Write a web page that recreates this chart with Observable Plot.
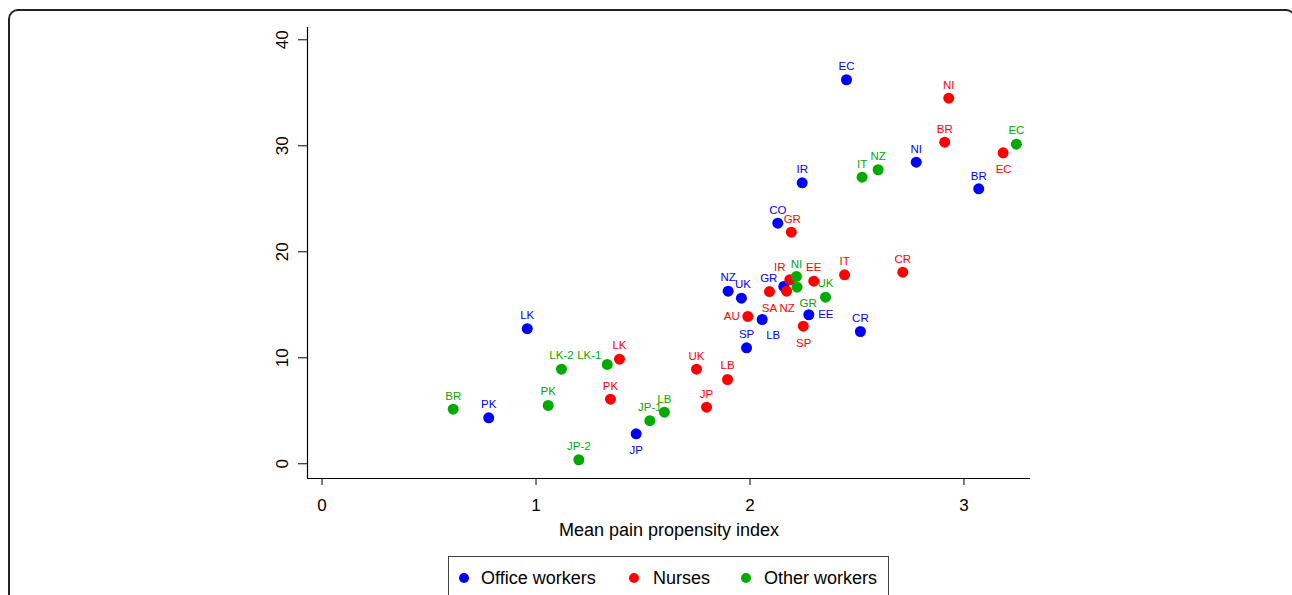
<!DOCTYPE html>
<html>
<head>
<meta charset="utf-8">
<script src="https://cdn.jsdelivr.net/npm/d3@7"></script>
<script src="https://cdn.jsdelivr.net/npm/@observablehq/plot@0.6"></script>
<style>
  html, body { margin: 0; padding: 0; background: #fff; overflow: hidden; width: 1292px; height: 595px; }
  #frame { position: absolute; left: 8px; top: 9px; width: 1288px; height: 640px; border: 2px solid #222; border-radius: 10px; box-sizing: border-box; pointer-events: none; }
  #chart { position: absolute; left: 0; top: 0; }
  #legend { position: absolute; left: 448px; top: 556px; width: 441px; height: 60px; border: 1.5px solid #444; box-sizing: border-box; font-family: "Liberation Sans", Arial, sans-serif; font-size: 18px; color: #000; }
  #legend .dot { position: absolute; width: 10px; height: 10px; border-radius: 50%; top: 16px; }
  #legend .lab { position: absolute; top: 10px; line-height: 22px; white-space: nowrap; }
</style>
</head>
<body>
<div id="chart"></div>
<div id="legend"></div>
<div id="frame"></div>
<script>
// ---- data ----
const groups = ["Office workers", "Nurses", "Other workers"];
const groupColors = ["#0000FF", "#FF0000", "#00AA00"];

const officeLabels = ["EC","NI","BR","IR","CO","NZ","UK","GR","EE","LB","CR","SP","LK","PK","JP"];
const officeX = [2.451, 2.777, 3.069, 2.244, 2.130, 1.898, 1.960, 2.158, 2.275, 2.057, 2.516, 1.984, 0.959, 0.779, 1.468];
const officeY = [36.23, 28.45, 25.94, 26.51, 22.70, 16.28, 15.62, 16.73, 14.06, 13.61, 12.48, 10.94, 12.74, 4.34, 2.83];

const nurseLabels = ["NI","BR","EC","GR","IR","EE","IT","CR","SA","NZ","AU","SP","LK","UK","PK","JP","LB"];
const nurseX = [2.929, 2.910, 3.183, 2.193, 2.186, 2.298, 2.442, 2.714, 2.091, 2.171, 1.990, 2.249, 1.390, 1.750, 1.348, 1.797, 1.895];
const nurseY = [34.49, 30.34, 29.34, 21.85, 17.36, 17.23, 17.83, 18.08, 16.25, 16.28, 13.90, 12.98, 9.87, 8.92, 6.09, 5.34, 7.95];

const otherLabels = ["EC","NZ","IT","NI","GR","UK","LK-2","LK-1","BR","PK","LB","JP-1","JP-2"];
const otherX = [3.245, 2.599, 2.524, 2.217, 2.220, 2.353, 1.119, 1.333, 0.613, 1.057, 1.600, 1.532, 1.200];
const otherY = [30.15, 27.74, 27.04, 17.67, 16.66, 15.72, 8.92, 9.37, 5.15, 5.50, 4.87, 4.06, 0.38];

const xTicks = [0, 1, 2, 3];
const yTicks = [0, 10, 20, 30, 40];
const xLabel = "Mean pain propensity index";

// ---- label placement (pixel offsets of each label from its point) ----
const defaultOffset = [0, -13];
const labelOffsets = {
  "Office workers|UK": [1.5, -14], "Office workers|NZ": [0, -13.5], "Office workers|GR": [-15, -8],
  "Office workers|EE": [17, 0], "Office workers|LB": [11, 16], "Office workers|JP": [0, 17],
  "Nurses|EC": [0.5, 17], "Nurses|IR": [-10, -12], "Nurses|SA": [0, 17], "Nurses|NZ": [0.5, 17],
  "Nurses|AU": [-16, 0], "Nurses|SP": [0.5, 17], "Nurses|EE": [0, -14], "Nurses|LK": [0, -14],
  "Nurses|LB": [0, -14], "Nurses|GR": [1, -13],
  "Other workers|NI": [0, -12], "Other workers|GR": [11, 16], "Other workers|LK-1": [-18, -9],
  "Other workers|EC": [0, -13.5], "Other workers|UK": [0, -13.5], "Other workers|LK-2": [0, -13.5],
  "Other workers|PK": [0, -14]
};

// ---- build table ----
const rows = [];
function addGroup(group, labels, xs, ys) {
  labels.forEach((l, i) => rows.push({group, label: l, x: xs[i], y: ys[i]}));
}
addGroup(groups[0], officeLabels, officeX, officeY);
addGroup(groups[1], nurseLabels, nurseX, nurseY);
addGroup(groups[2], otherLabels, otherX, otherY);

const colorOf = g => groupColors[groups.indexOf(g)];
const xMin = -0.068, xMax = 3.311, yMin = -1.39, yMax = 41.16;
const font = "'Liberation Sans', Arial, Helvetica, sans-serif";

const labelMarks = rows.map(r => {
  const [dx, dy] = labelOffsets[r.group + "|" + r.label] || defaultOffset;
  return Plot.text([r], {x: "x", y: "y", text: "label", dx, dy, fill: colorOf(r.group), fontSize: 11.5});
});

const chart = Plot.plot({
  width: 1292,
  height: 556,
  marginLeft: 307,
  marginRight: 262,
  marginTop: 27,
  marginBottom: 78,
  x: {domain: [xMin, xMax]},
  y: {domain: [yMin, yMax]},
  color: {domain: groups, range: groupColors},
  style: {fontFamily: font, background: "transparent", color: "#000", overflow: "visible"},
  marks: [
    Plot.ruleX([xMin], {stroke: "#000", strokeWidth: 1.2}),
    Plot.ruleY([yMin], {stroke: "#000", strokeWidth: 1.2}),
    Plot.axisX({ticks: xTicks, tickSize: 7, tickPadding: 13, fontSize: 17, label: null, tickFormat: d => String(d), stroke: "#000"}),
    Plot.axisY({ticks: yTicks, tickSize: 9, tickFormat: () => "", label: null, stroke: "#000"}),
    Plot.text(yTicks, {x: xMin, y: d => d, text: d => String(d), rotate: -90, dx: -25, fontSize: 17, fill: "#000"}),
    Plot.text([xLabel], {frameAnchor: "bottom", dy: 57, fontSize: 18, fill: "#000"}),
    ...labelMarks,
    Plot.dot(rows, {x: "x", y: "y", fill: "group", r: 5.5, stroke: null})
  ]
});
document.getElementById("chart").appendChild(chart);

// ---- legend ----
const legend = document.getElementById("legend");
const legendDotLeft = [10, 180, 292];
const legendTextLeft = [32, 204, 315];
groups.forEach((g, i) => {
  const d = document.createElement("span");
  d.className = "dot";
  d.style.left = legendDotLeft[i] + "px";
  d.style.background = groupColors[i];
  legend.appendChild(d);
  const t = document.createElement("span");
  t.className = "lab";
  t.style.left = legendTextLeft[i] + "px";
  t.textContent = g;
  legend.appendChild(t);
});
</script>
</body>
</html>
